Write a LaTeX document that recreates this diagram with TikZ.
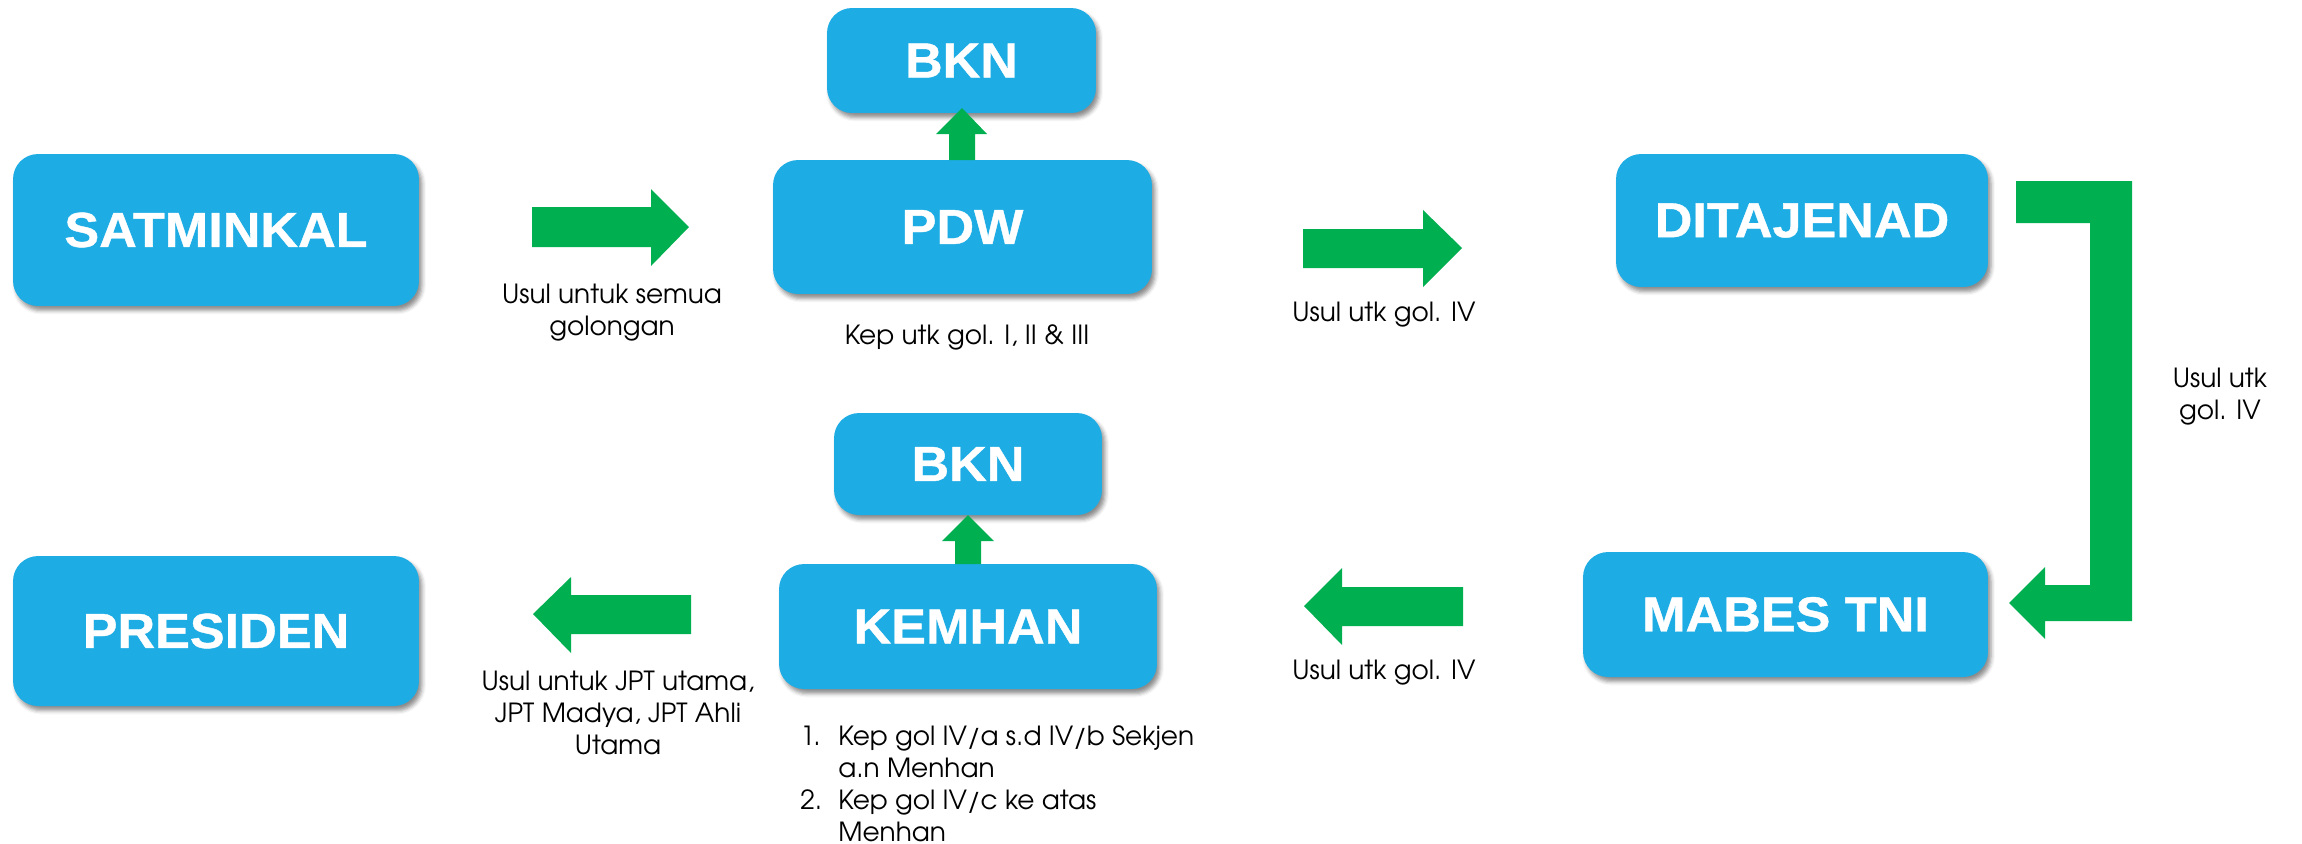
\documentclass[tikz,border=0pt]{standalone}
\usepackage{fontspec}
\usetikzlibrary{shadows.blur}
\newfontfamily\boxfont{Liberation Sans}[FakeStretch=1.06, FakeBold=0.8]
\newfontfamily\lblfont{texgyreadventor-regular.otf}
\definecolor{boxblue}{HTML}{1EACE4}
\definecolor{arrgreen}{HTML}{00AF50}
\newlength{\numindent}
\setlength{\numindent}{0.76cm}
\tikzset{
  blockbox/.style={draw=none, fill=boxblue, rounded corners=0.5cm, inner sep=0pt,
    text=white, font=\boxfont\bfseries\fontsize{28}{30}\selectfont,
    blur shadow={shadow xshift=0.06cm, shadow yshift=-0.09cm, shadow blur radius=0.08cm, shadow opacity=45}},
  lbl/.style={inner sep=0pt, align=center, text=black, font=\lblfont\fontsize{15}{18.2}\selectfont},
  blockarrow/.style={fill=arrgreen, draw=none}
}
\begin{document}
\begin{tikzpicture}[x=0.02cm, y=-0.02cm]
\useasboundingbox (0,0) rectangle (2302,843);
% boxes
\node[blockbox, minimum width=8.12cm, minimum height=3.04cm] (sat) at (216,230) {SATMINKAL};
\node[blockbox, minimum width=7.58cm, minimum height=2.68cm] (pdw) at (962.5,227) {PDW};
\node[blockbox, minimum width=5.38cm, minimum height=2.10cm] (bkna) at (961.5,60.5) {BKN};
\node[blockbox, minimum width=7.44cm, minimum height=2.66cm] (dit) at (1802,220.5) {DITAJENAD};
\node[blockbox, minimum width=8.10cm, minimum height=2.50cm] (mabes) at (1785.5,614.5) {MABES TNI};
\node[blockbox, minimum width=7.56cm, minimum height=2.50cm] (kemhan) at (968,626.5) {KEMHAN};
\node[blockbox, minimum width=5.36cm, minimum height=2.04cm] (bknb) at (968,464) {BKN};
\node[blockbox, minimum width=8.12cm, minimum height=3.00cm] (pres) at (216,631) {PRESIDEN};
% arrows
\fill[blockarrow] (532,207) -- (651,207) -- (651,189) -- (689,227) -- (651,266) -- (651,247) -- (532,247) -- cycle;
\fill[blockarrow] (1303,229) -- (1423,229) -- (1423,210) -- (1462,248) -- (1423,287) -- (1423,268) -- (1303,268) -- cycle;
\fill[blockarrow] (1463,587) -- (1342,587) -- (1342,568) -- (1304,606) -- (1342,645) -- (1342,626) -- (1463,626) -- cycle;
\fill[blockarrow] (691,595) -- (571,595) -- (571,577) -- (533,614) -- (571,653) -- (571,634) -- (691,634) -- cycle;
\fill[blockarrow] (949,160) -- (949,134) -- (936,134) -- (962,108) -- (987,134) -- (975,134) -- (975,160) -- cycle;
\fill[blockarrow] (955,564) -- (955,541) -- (942,541) -- (968,515) -- (994,541) -- (981,541) -- (981,564) -- cycle;
\fill[blockarrow] (2016,181) -- (2132,181) -- (2132,621) -- (2045,621) -- (2045,639) -- (2009,603) -- (2045,567) -- (2045,585) -- (2090,585) -- (2090,223) -- (2016,223) -- cycle;
% labels
\node[lbl] (t1) at (612,313) {Usul untuk semua\\golongan};
\node[lbl] (t2) at (967,337) {Kep utk gol. I, II \& III};
\node[lbl] (t3) at (1384,315) {Usul utk gol. IV};
\node[lbl] (t4) at (2220,397) {Usul utk\\gol. IV};
\node[lbl] (t5) at (1384,673) {Usul utk gol. IV};
\node[lbl] (t6) at (618,713) {Usul untuk JPT utama,\\JPT Madya, JPT Ahli\\Utama};
\node[lbl, align=left, anchor=west] (t7) at (800,784) {\makebox[\numindent][l]{1.}Kep gol IV/a s.d IV/b Sekjen\\\hspace*{\numindent}a.n Menhan\\\makebox[\numindent][l]{2.}Kep gol IV/c ke atas\\\hspace*{\numindent}Menhan};
\end{tikzpicture}
\end{document}
